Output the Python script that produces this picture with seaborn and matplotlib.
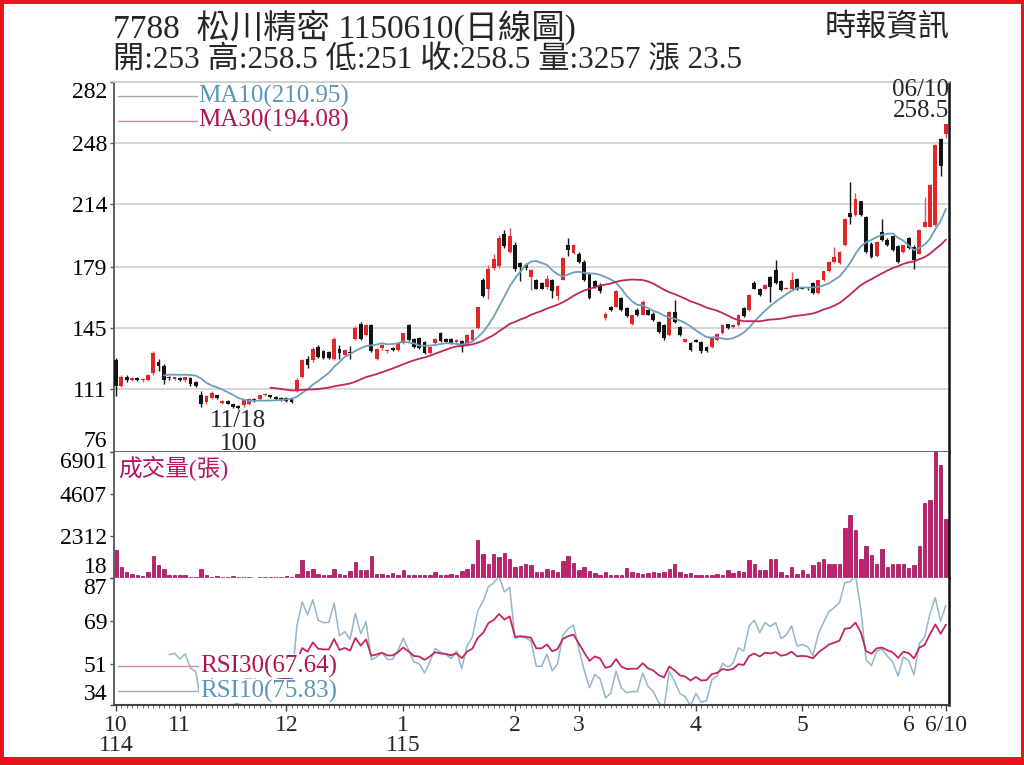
import numpy as np
import pandas as pd
import matplotlib
matplotlib.use("Agg")
import matplotlib.pyplot as plt
import seaborn as sns
from matplotlib.patches import Rectangle

# ---------------- data ----------------
open_ = [127, 113, 118, 116, 117, 116, 116, 120, 126, 124,
         118, 116.5, 117, 116, 117, 115, 108, 104, 106, 107.5,
         103.5, 104.5, 102.5, 101.5, 102, 102.5, 105.5, 105.5, 107.5, 107.5,
         106.5, 106, 106, 105.5, 110, 118, 128, 127, 134.5, 132.5,
         131.5, 128, 133.5, 130, 131.5, 139, 147.5, 141, 146.5, 128,
         134, 132, 134, 133, 136.5, 146.5, 139, 139.5, 137.5, 131,
         136.5, 142.5, 139, 139, 137, 138, 135.5, 138.5, 145, 171.5,
         167, 178.5, 179.5, 197.5, 187.5, 191, 181, 180, 173.5, 172,
         170, 168, 172, 163, 172, 191.5, 187, 186.5, 182, 175.5,
         171, 169, 150.5, 157, 157, 161.5, 156, 147, 155, 152.5,
         155, 153, 148.5, 146.5, 141, 154, 145.5, 137.5, 136.5, 138.5,
         137.5, 134.5, 134.5, 138.5, 142, 147, 145.5, 146.5, 156, 155,
         170, 167, 167, 173.5, 177.5, 171, 167, 166.5, 172.5, 167.5,
         167, 170, 164.5, 171.5, 176.5, 182, 181, 191, 209, 208,
         215.5, 207, 192, 185, 198.5, 194, 196, 190.5, 187.5, 195,
         190, 186.5, 201.5, 201.5, 202.5, 250.5, 253]
high = [128.5, 119, 119, 118, 117.5, 117, 119.5, 132, 128, 125,
        118.5, 118, 118, 118, 117.5, 115.5, 110, 107.5, 110, 108,
        105, 105, 103, 102, 105.5, 106, 106, 108, 109, 108,
        107, 106.5, 106.5, 106, 117, 128, 129.5, 134.5, 135.5, 133,
        132, 140, 135.5, 133.5, 135, 146, 148.5, 147, 147.5, 134,
        136, 133.5, 134.5, 137, 142.5, 147.5, 139.5, 140, 138, 135,
        139.5, 143, 139.5, 139.5, 139, 138.5, 141.5, 144.5, 157, 173,
        180, 186, 197, 199.5, 200.5, 193, 182, 181, 178, 172.5,
        170.5, 174.5, 172.5, 169, 184.5, 195, 192, 187.5, 183, 176,
        172, 170, 154, 157.5, 166, 162.5, 157, 152.5, 156, 160.5,
        155.5, 154, 149, 147, 154.5, 160.5, 146, 139.5, 137, 139,
        138, 135, 140.5, 142, 147, 147.5, 147.5, 153, 156.5, 164,
        171, 167.5, 169.5, 174, 183, 171.5, 168, 176, 173, 168,
        167.5, 170.5, 172, 177, 182.5, 190, 188, 206.5, 226.5, 220,
        216, 207.5, 193, 193.5, 206, 195, 196.5, 191, 191.5, 195.5,
        191, 200, 218, 225, 247.5, 251, 258.5]
low = [107, 112, 115, 115.5, 115.5, 115, 115.5, 119, 121, 114,
       116, 116, 115.5, 115, 113, 112, 101, 103, 105.5, 105.5,
       103, 102.5, 100.5, 100, 101, 102, 104, 105, 107, 106,
       105, 104.5, 104, 103.5, 109.5, 117, 123, 126, 128.5, 128,
       128, 127.5, 128, 129.5, 128, 138.5, 138.5, 140.5, 131.5, 127.5,
       133, 131, 132.5, 132.5, 136, 138, 134, 133.5, 130.5, 130.5,
       136, 137.5, 137, 136, 136.5, 131.5, 135, 138, 144.5, 162.5,
       161, 177.5, 178.5, 189.5, 187, 177, 171, 177.5, 166, 166.5,
       166.5, 167, 162, 160.5, 171.5, 185, 186, 181, 171, 161,
       167.5, 164.5, 149.5, 154.5, 156.5, 154.5, 151, 146.5, 151.5, 152,
       152, 149, 142.5, 138.5, 140.5, 148, 140.5, 137, 132, 137,
       131, 131.5, 134, 138, 141.5, 144.5, 145, 146, 151, 154.5,
       166.5, 163, 166.5, 159.5, 169.5, 165.5, 166.5, 166, 166, 166.5,
       166, 164, 164, 171, 176, 181.5, 180.5, 190.5, 203, 207.5,
       207.5, 187, 184, 184.5, 193.5, 190.5, 188, 181.5, 187, 189,
       178, 186, 201, 201, 202, 229.5, 251]
close = [113, 118, 116, 117, 116, 116.5, 119, 131, 124, 116,
         117, 117.5, 116, 117.5, 114, 113, 103, 107, 109, 106,
         104.5, 103, 101, 100.5, 105, 105.5, 104.5, 107.5, 108.5, 106.5,
         105.5, 105, 104.5, 104, 116, 127, 124.5, 133.5, 129, 128.5,
         128.5, 139, 131, 133, 131, 145, 139, 146.5, 132, 133.5,
         135.5, 133, 133, 136.5, 142, 138.5, 134.5, 134, 131, 134.5,
         139, 138, 137.5, 136.5, 138.5, 134.5, 141, 144, 156.5, 163,
         178, 183.5, 195, 190.5, 196.5, 178, 179, 178.5, 177.5, 167,
         167, 172.5, 165.5, 168.5, 184, 188.5, 191, 182, 172, 161.5,
         168, 165.5, 153, 155, 165.5, 155, 151.5, 152, 152, 159.5,
         152.5, 149.5, 143, 139.5, 154, 148.5, 141, 139, 133, 137.5,
         132, 132.5, 140, 141.5, 146.5, 145, 146.5, 152.5, 151.5, 163.5,
         167, 163.5, 169, 168, 170, 166, 167.5, 171.5, 166.5, 167,
         166.5, 164.5, 171.5, 176.5, 182, 184.5, 187.5, 206, 207, 217,
         208, 187.5, 184.5, 193, 194, 191, 188.5, 182, 191, 189.5,
         183, 199.5, 204, 224.5, 247, 235, 258.5]
volume = [1550, 600, 330, 240, 150, 90, 330, 1190, 730, 510,
          150, 150, 150, 150, 55, 55, 510, 180, 55, 110,
          55, 55, 110, 55, 40, 55, 18, 55, 40, 30,
          40, 30, 110, 30, 240, 970, 365, 510, 240, 150,
          150, 475, 240, 150, 365, 877, 457, 420, 1205, 237,
          237, 180, 274, 180, 420, 150, 150, 180, 150, 150,
          329, 150, 150, 200, 150, 365, 475, 786, 2100, 1297,
          786, 1333, 1150, 1388, 1059, 603, 640, 749, 694, 329,
          329, 511, 420, 329, 932, 1187, 822, 420, 603, 365,
          274, 146, 329, 146, 146, 146, 566, 329, 274, 237,
          274, 310, 292, 329, 511, 749, 329, 237, 274, 146,
          146, 146, 146, 237, 183, 420, 274, 384, 329, 968,
          786, 420, 420, 1023, 1059, 329, 146, 603, 237, 420,
          200, 694, 877, 1059, 749, 785, 785, 2758, 3434, 2649,
          1023, 1735, 1242, 785, 1607, 603, 785, 785, 785, 566,
          694, 1735, 4128, 4256, 6901, 6174, 3257]

holidays = ["2025-10-24", "2025-12-25", "2026-01-01",
            "2026-02-12", "2026-02-13", "2026-02-16", "2026-02-17",
            "2026-02-18", "2026-02-19", "2026-02-20", "2026-02-27",
            "2026-04-03", "2026-04-06", "2026-05-01"]
dates = pd.bdate_range("2025-10-15", "2026-06-10", freq="C", holidays=holidays)

price_ticks = [76, 111, 145, 179, 214, 248, 282]
vol_ticks = [18, 2312, 4607, 6901]
rsi_ticks = [34, 51, 69, 87]
title = "7788  松川精密 1150610(日線圖)"
source = "時報資訊"
ma_labels = ["MA10(210.95)", "MA30(194.08)"]
rsi_labels = ["RSI30(67.64)", "RSI10(75.83)"]
vol_label = "成交量(張)"

# ---------------- derived indicators ----------------
N = len(close)
idx = np.arange(N)
o, h, l, c, v = (np.array(a, dtype=float) for a in (open_, high, low, close, volume))


def wilder_rsi(x, n):
    d = np.diff(x)
    g = np.clip(d, 0, None)
    ls = np.clip(-d, 0, None)
    out = np.full(len(x), np.nan)
    ag, al = g[:n].mean(), ls[:n].mean()
    out[n] = 100 * ag / (ag + al)
    for k in range(n + 1, len(x)):
        ag = (ag * (n - 1) + g[k - 1]) / n
        al = (al * (n - 1) + ls[k - 1]) / n
        out[k] = 100 * ag / (ag + al)
    return out


df = pd.DataFrame({"idx": idx, "open": o, "high": h, "low": l, "close": c, "vol": v})
df["ma10"] = df["close"].rolling(10).mean()
df["ma30"] = df["close"].rolling(30).mean()
df["rsi10"] = wilder_rsi(c, 10)
df["rsi30"] = wilder_rsi(c, 30)

# ---------------- style ----------------
sns.set_theme(style="white")
plt.rcParams["font.family"] = ["Liberation Serif", "Noto Sans CJK TC", "DejaVu Sans"]
plt.rcParams["axes.unicode_minus"] = False

RED = "#e0252b"
BLACK = "#141414"
MA10C = "#6a9fbd"
MA30C = "#c0265c"
VOLC = "#c81c70"
RSI10C = "#93b7c9"
RSI30C = "#c4285a"
LBL_BLUE = "#5b95b9"
LBL_RED = "#b0144e"

fig = plt.figure(figsize=(10.24, 7.65), dpi=100)
fig.patch.set_facecolor("white")

L, R = 114, 949
W = (R - L) / 1024
ax_p = fig.add_axes([L / 1024, 1 - 452 / 765, W, (452 - 82) / 765])
ax_v = fig.add_axes([L / 1024, 1 - 578 / 765, W, (578 - 452) / 765])
ax_r = fig.add_axes([L / 1024, 1 - 705 / 765, W, (705 - 578) / 765])
xlim = ((L - 116) / 5.32, (R - 116) / 5.32)

# ---- price panel: candles + MAs
up = c >= o
body_col = np.where(up, RED, BLACK)
wick_col = np.where(up, "#e2505a", BLACK)
ax_p.vlines(idx, l, h, colors=wick_col, lw=1.0, zorder=3)
ax_p.bar(idx, np.maximum(np.abs(c - o), 0.45), bottom=np.minimum(o, c),
         width=0.72, color=body_col, lw=0, zorder=4)
sns.lineplot(data=df, x="idx", y="ma10", ax=ax_p, color=MA10C, lw=1.3, legend=False, zorder=5)
sns.lineplot(data=df, x="idx", y="ma30", ax=ax_p, color=MA30C, lw=1.3, legend=False, zorder=5)
ax_p.set_ylim(price_ticks[0], price_ticks[-1])
ax_p.set_yticks(price_ticks, [str(t) for t in price_ticks])
ax_p.grid(axis="y", color="#d6d6d6", lw=1.4)
ax_p.set_axisbelow(True)

# ---- volume panel
sns.barplot(data=df, x="idx", y="vol", ax=ax_v, native_scale=True, color=VOLC,
            saturation=1, width=0.64, errorbar=None, edgecolor="#8e0c4c", linewidth=0.5)
ax_v.set_ylim(0, max(vol_ticks))
ax_v.set_yticks(vol_ticks, [str(t) for t in vol_ticks])

# ---- RSI panel
sns.lineplot(data=df, x="idx", y="rsi10", ax=ax_r, color=RSI10C, lw=1.1, legend=False)
sns.lineplot(data=df, x="idx", y="rsi30", ax=ax_r, color=RSI30C, lw=1.3, legend=False)
ax_r.set_ylim(rsi_ticks[0], rsi_ticks[-1])
ax_r.set_yticks(rsi_ticks, [str(t) for t in rsi_ticks])

for ax in (ax_p, ax_v, ax_r):
    ax.set_xlim(*xlim)
    ax.set_xlabel("")
    ax.set_ylabel("")
    ax.set_facecolor("white")
    ax.tick_params(axis="y", which="major", labelsize=17, length=3, width=1,
                   color="#555555", pad=2, left=True, labelcolor="black")
    tl = ax.get_yticklabels()
    tl[0].set_verticalalignment("bottom")
    tl[-1].set_verticalalignment("top")
    for s in ax.spines.values():
        s.set_visible(True)
    ax.spines["left"].set_color("#606060")
    ax.spines["left"].set_linewidth(1.4)
    ax.spines["right"].set_color("#111111")
    ax.spines["right"].set_linewidth(1.8)

ax_p.spines["top"].set_color("#cfcfcf")
ax_p.spines["top"].set_linewidth(1.3)
ax_p.spines["bottom"].set_color("#5a5a5a")
ax_p.spines["bottom"].set_linewidth(2.0)
ax_v.spines["top"].set_visible(False)
ax_v.spines["bottom"].set_color("#bdbdbd")
ax_v.spines["bottom"].set_linewidth(1.0)
ax_r.spines["top"].set_visible(False)
ax_r.spines["bottom"].set_color("#444444")
ax_r.spines["bottom"].set_linewidth(1.5)

for ax in (ax_p, ax_v):
    ax.tick_params(axis="x", which="both", bottom=False, labelbottom=False)

# ---- x axis (months)
first = [0] + [i for i in range(1, N) if dates[i].month != dates[i - 1].month]
pos, labs = [], []
for i in first:
    lab = str(dates[i].month)
    if i == 0 or dates[i].month == 1:
        lab += "\n" + str(dates[i].year - 1911)
    pos.append(i)
    labs.append(lab)
pos.append(N - 1)
labs.append(f"{dates[-1].month}/{dates[-1].day}")
ax_r.set_xticks(pos, labs)
ax_r.set_xticks(idx, minor=True)
ax_r.tick_params(axis="x", which="major", length=4, width=1, color="#444444",
                 labelsize=17, pad=3, bottom=True)
ax_r.tick_params(axis="x", which="minor", length=2, width=0.7, color="#666666", bottom=True)
for t in ax_r.get_xticklabels():
    t.set_linespacing(0.95)

# ---- legends
box = dict(facecolor="white", edgecolor="none", pad=0.5)
ax_p.plot([0.005, 0.101], [0.962, 0.962], transform=ax_p.transAxes, color="#a9a9a9", lw=1)
ax_p.plot([0.005, 0.101], [0.895, 0.895], transform=ax_p.transAxes, color="#d28aa2", lw=1)
ax_p.text(0.101, 0.962, ma_labels[0], transform=ax_p.transAxes, color=LBL_BLUE,
          fontsize=18, va="center", ha="left", bbox=box, zorder=7)
ax_p.text(0.101, 0.895, ma_labels[1], transform=ax_p.transAxes, color=LBL_RED,
          fontsize=18, va="center", ha="left", bbox=box, zorder=7)
ax_v.text(0.005, 0.87, vol_label, transform=ax_v.transAxes, color="#b5165f",
          fontsize=17, va="center", ha="left")
ax_r.plot([0.005, 0.103], [0.307, 0.307], transform=ax_r.transAxes, color="#d28aa2", lw=1)
ax_r.plot([0.005, 0.103], [0.110, 0.110], transform=ax_r.transAxes, color="#a9a9a9", lw=1)
ax_r.text(0.103, 0.307, rsi_labels[0], transform=ax_r.transAxes, color=LBL_RED,
          fontsize=18, va="center", ha="left", bbox=box, zorder=7)
ax_r.text(0.103, 0.110, rsi_labels[1], transform=ax_r.transAxes, color=LBL_BLUE,
          fontsize=18, va="center", ha="left", bbox=box, zorder=7)

# ---- annotations: lowest low and last close
lo_i = int(np.argmin(l))
ax_p.annotate(f"{dates[lo_i].month}/{dates[lo_i].day}", xy=(lo_i, l[lo_i]), xytext=(0, -12),
              textcoords="offset pixels", ha="center", va="center", fontsize=18,
              annotation_clip=False, zorder=8)
ax_p.annotate(f"{l[lo_i]:g}", xy=(lo_i, l[lo_i]), xytext=(0, -35),
              textcoords="offset pixels", ha="center", va="center", fontsize=18,
              annotation_clip=False, zorder=8)
ax_p.annotate(f"{dates[-1]:%m/%d}", xy=(N - 1, h[-1]), xytext=(3, 34),
              textcoords="offset pixels", ha="right", va="center", fontsize=18,
              annotation_clip=False, zorder=8)
ax_p.annotate(f"{c[-1]:g}", xy=(N - 1, h[-1]), xytext=(3, 13),
              textcoords="offset pixels", ha="right", va="center", fontsize=18,
              annotation_clip=False, zorder=8)

# ---- header
line2 = (f"開:{o[-1]:g} 高:{h[-1]:g} 低:{l[-1]:g} 收:{c[-1]:g} "
         f"量:{v[-1]:g} 漲 {c[-1] - c[-2]:g}")
fig.text(113 / 1024, 1 - 27 / 765, title, fontsize=24, va="center", ha="left")
fig.text(113 / 1024, 1 - 61 / 765, line2, fontsize=22.5, va="center", ha="left")
fig.text(950 / 1024, 1 - 28 / 765, source, fontsize=22.5, va="center", ha="right")

# ---- red frame
fig.patches.append(Rectangle((0, 0), 1, 1, transform=fig.transFigure, fill=False,
                             edgecolor="#e8141c", lw=5, zorder=10))
fig.patches.append(Rectangle((0, 0), 1, 8 / 765, transform=fig.transFigure,
                             facecolor="#e8141c", edgecolor="none", zorder=10))

fig.savefig("out.png", dpi=100)
